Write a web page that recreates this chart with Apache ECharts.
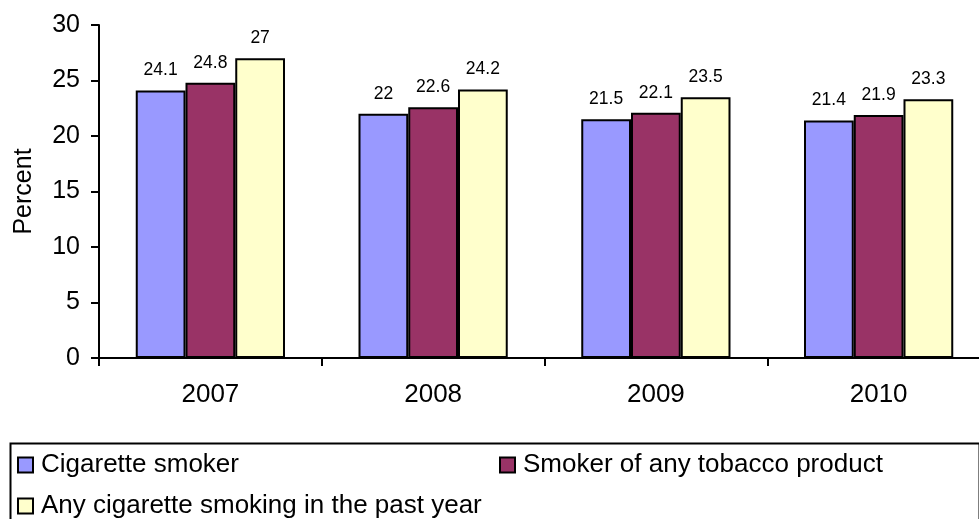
<!DOCTYPE html>
<html>
<head>
<meta charset="utf-8">
<script src="https://cdn.jsdelivr.net/npm/echarts@6/dist/echarts.min.js"></script>
<style>
html,body{margin:0;padding:0;background:#fff;}
#chart{width:979px;height:519px;}
</style>
</head>
<body>
<div id="chart"></div>
<script>
const categories = ['2007', '2008', '2009', '2010'];
const cigaretteSmoker = [24.1, 22, 21.5, 21.4];
const anyTobacco = [24.8, 22.6, 22.1, 21.9];
const pastYear = [27, 24.2, 23.5, 23.3];
const yTicks = [0, 5, 10, 15, 20, 25, 30];

const font = 'Liberation Sans, Arial, sans-serif';
const chart = echarts.init(document.getElementById('chart'));

function barSeries(name, data, color) {
  return {
    name: name,
    type: 'bar',
    data: data,
    barGap: '0%',
    barCategoryGap: '33%',
    itemStyle: { color: color, borderColor: '#000', borderWidth: 2 },
    label: {
      show: true, position: 'top', distance: 11,
      color: '#000', fontFamily: font, fontSize: 17.5
    }
  };
}

function legendItem(name, left, top) {
  return {
    data: [name],
    left: left, top: top,
    icon: 'rect', itemWidth: 15, itemHeight: 15,
    itemStyle: { borderColor: '#000', borderWidth: 2 },
    textStyle: { color: '#000', fontFamily: font, fontSize: 26, padding: [0, 0, 0, 3] }
  };
}

chart.setOption({
  animation: false,
  backgroundColor: '#fff',
  grid: { left: 99, top: 25, width: 891, bottom: 161, containLabel: false, outerBoundsMode: 'none' },
  xAxis: {
    type: 'category',
    data: categories,
    boundaryGap: true,
    axisLine: { lineStyle: { color: '#000', width: 2 } },
    axisTick: { show: true, length: 8, alignWithLabel: false, lineStyle: { color: '#000', width: 2 } },
    axisLabel: { color: '#000', fontFamily: font, fontSize: 26, margin: 24 }
  },
  yAxis: {
    type: 'value',
    min: yTicks[0], max: yTicks[yTicks.length - 1], interval: 5,
    name: 'Percent',
    nameLocation: 'middle',
    nameGap: 62,
    nameTextStyle: { color: '#000', fontFamily: font, fontSize: 25 },
    axisLine: { show: true, lineStyle: { color: '#000', width: 2 } },
    axisTick: { show: true, length: 8, lineStyle: { color: '#000', width: 2 } },
    axisLabel: { color: '#000', fontFamily: font, fontSize: 25, margin: 19 },
    splitLine: { show: false }
  },
  legend: [
    legendItem('Cigarette smoker', 12, 447),
    legendItem('Any cigarette smoking in the past year', 12, 488),
    legendItem('Smoker of any tobacco product', 494, 447)
  ],
  graphic: [{
    type: 'rect', left: 8, top: 441, z: -1,
    shape: { width: 969, height: 120 },
    style: { fill: 'none', stroke: '#000', lineWidth: 2 }
  }],
  series: [
    barSeries('Cigarette smoker', cigaretteSmoker, '#9999FF'),
    barSeries('Smoker of any tobacco product', anyTobacco, '#993366'),
    barSeries('Any cigarette smoking in the past year', pastYear, '#FFFFCC')
  ]
});
</script>
</body>
</html>
